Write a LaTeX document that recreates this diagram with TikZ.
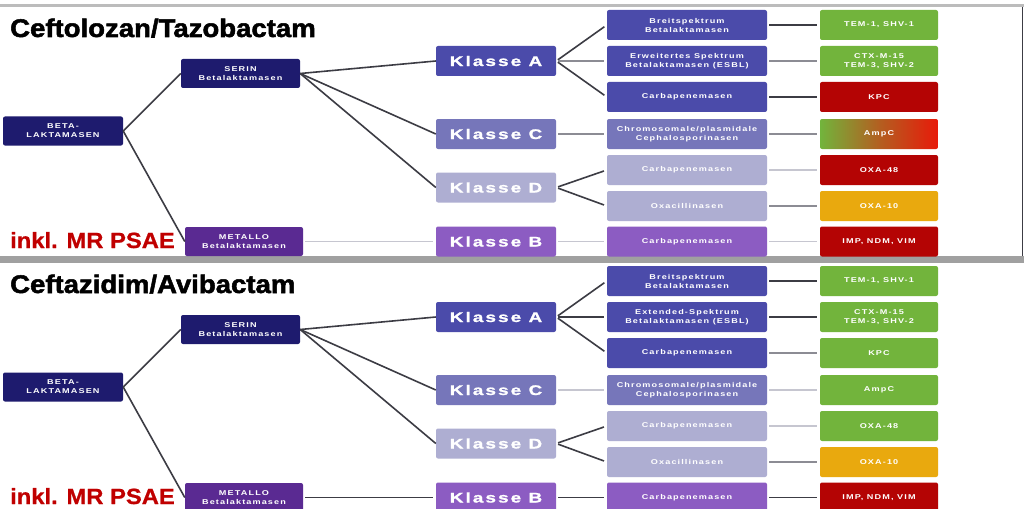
\documentclass[tikz,border=0pt]{standalone}
\usepackage{fontspec}
\setmainfont{Liberation Sans}
\newfontfamily\titlefont[FakeStretch=1.08,FakeBold=2]{Liberation Sans}
\newfontfamily\hintfont[FakeStretch=1.08,FakeBold=0.8]{Liberation Sans}
\newfontfamily\klfont[FakeStretch=1.35,LetterSpace=15,FakeBold=1.2]{Liberation Sans}
\newfontfamily\boxfont[FakeStretch=1.3,LetterSpace=16]{Liberation Sans}

\definecolor{navy}{HTML}{1E1B6E}
\definecolor{metallo}{HTML}{5A2A92}
\definecolor{klA}{HTML}{4B4BAA}
\definecolor{klC}{HTML}{7676BA}
\definecolor{klD}{HTML}{AEAED2}
\definecolor{klB}{HTML}{8C5CC2}
\definecolor{resgreen}{HTML}{72B43C}
\definecolor{resred}{HTML}{B40404}
\definecolor{resorange}{HTML}{E9A90E}
\definecolor{ampred}{HTML}{E81A0A}
\definecolor{linedark}{HTML}{3C3C44}
\definecolor{linegray}{HTML}{8C8C94}
\definecolor{linelight}{HTML}{C6C6D0}
\definecolor{hintred}{HTML}{C00000}
\definecolor{rulegray}{HTML}{A0A0A0}

\tikzset{
  box/.style={rectangle, rounded corners=2pt, text=white, align=center,
    inner sep=0pt},
  navybox/.style={box, fill=navy, minimum width=119pt, minimum height=29pt,
    font=\boxfont\bfseries\fontsize{7}{9}\selectfont},
  klasse/.style={box, minimum width=120pt, minimum height=30pt,
    font=\klfont\bfseries\fontsize{14}{16}\selectfont},
  child/.style={box, minimum width=160pt, minimum height=30pt,
    font=\boxfont\bfseries\fontsize{7}{9}\selectfont},
  result/.style={box, minimum width=118pt, minimum height=30pt,
    font=\boxfont\bfseries\fontsize{7}{9}\selectfont},
  title/.style={anchor=base west, inner sep=0pt, text=black,
    font=\titlefont\bfseries\fontsize{25.5}{28}\selectfont},
  hint/.style={anchor=base west, inner sep=0pt, text=hintred,
    font=\hintfont\bfseries\fontsize{22}{24}\selectfont},
  conn/.style={line width=1.6pt, draw=#1},
  conn/.default=linedark,
  gap/.style={shorten <=2pt, shorten >=3pt},
}

\begin{document}
\begin{tikzpicture}[x=1pt, y=-1pt]
\useasboundingbox (0,0) rectangle (1024,508);
\clip (0,0) rectangle (1024,508);
\fill[white] (0,0) rectangle (1024,508);

% frame rules
\fill[rulegray!70] (0,4.5) rectangle (1024,7);
\fill[rulegray] (0,256) rectangle (1024,263);
\fill[linedark] (1021.5,7) rectangle (1023,256);

% ---------- upper scheme ----------
\node[title] (t1) at (10,37) {Ceftolozan/Tazobactam};
\node[hint] (h1) at (10,248) {inkl. MR PSAE};

\node[navybox, minimum width=120pt] (beta) at (63,131) {BETA-\\LAKTAMASEN};
\node[navybox] (serin) at (240.5,73.5) {SERIN\\Betalaktamasen};
\node[navybox, fill=metallo, minimum width=118pt] (metallo) at (244,241.5) {METALLO\\Betalaktamasen};

\node[klasse, fill=klA] (ka) at (496,61) {Klasse A};
\node[klasse, fill=klC] (kc) at (496,134) {Klasse C};
\node[klasse, fill=klD] (kd) at (496,187.5) {Klasse D};
\node[klasse, fill=klB] (kb) at (496,241.5) {Klasse B};

\node[child, fill=klA] (a1) at (687,25) {Breitspektrum\\Betalaktamasen};
\node[child, fill=klA] (a2) at (687,61) {Erweitertes Spektrum\\Betalaktamasen (ESBL)};
\node[child, fill=klA] (a3) at (687,97) {Carbapenemasen};
\node[child, fill=klC] (c1) at (687,134) {Chromosomale/plasmidale\\Cephalosporinasen};
\node[child, fill=klD] (d1) at (687,170) {Carbapenemasen};
\node[child, fill=klD] (d2) at (687,206) {Oxacillinasen};
\node[child, fill=klB] (b1) at (687,241.5) {Carbapenemasen};

\node[result, fill=resgreen] (r1) at (879,25) {TEM-1, SHV-1};
\node[result, fill=resgreen] (r2) at (879,61) {CTX-M-15\\TEM-3, SHV-2};
\node[result, fill=resred] (r3) at (879,97) {KPC};
\node[result, left color=resgreen, right color=ampred, middle color=resgreen!45!ampred] (r4) at (879,134) {AmpC};
\node[result, fill=resred] (r5) at (879,170) {OXA-48};
\node[result, fill=resorange] (r6) at (879,206) {OXA-10};
\node[result, fill=resred] (r7) at (879,241.5) {IMP, NDM, VIM};

\draw[conn] (beta.east) -- (serin.west);
\draw[conn] (beta.east) -- (metallo.west);
\draw[conn] (serin.east) -- (ka.west);
\draw[conn] (serin.east) -- (kc.west);
\draw[conn] (serin.east) -- (kd.west);
\draw[conn=linelight, gap] (metallo.east) -- (kb.west);
\draw[conn, gap] (ka.east) -- (a1.west);
\draw[conn=linegray, gap] (ka.east) -- (a2.west);
\draw[conn, gap] (ka.east) -- (a3.west);
\draw[conn=linegray, gap] (kc.east) -- (c1.west);
\draw[conn, gap] (kd.east) -- (d1.west);
\draw[conn, gap] (kd.east) -- (d2.west);
\draw[conn=linelight, gap] (kb.east) -- (b1.west);
\draw[conn, gap] (a1.east) -- (r1.west);
\draw[conn=linegray, gap] (a2.east) -- (r2.west);
\draw[conn, gap] (a3.east) -- (r3.west);
\draw[conn=linegray, gap] (c1.east) -- (r4.west);
\draw[conn=linelight, gap] (d1.east) -- (r5.west);
\draw[conn=linegray, gap] (d2.east) -- (r6.west);
\draw[conn=linelight, gap] (b1.east) -- (r7.west);

% ---------- lower scheme ----------
\begin{scope}[yshift=-256pt]
\node[title] (t2) at (10,37) {Ceftazidim/Avibactam};
\node[hint] (h2) at (10,248) {inkl. MR PSAE};

\node[navybox, minimum width=120pt] (bbeta) at (63,131) {BETA-\\LAKTAMASEN};
\node[navybox] (bserin) at (240.5,73.5) {SERIN\\Betalaktamasen};
\node[navybox, fill=metallo, minimum width=118pt] (bmetallo) at (244,241.5) {METALLO\\Betalaktamasen};

\node[klasse, fill=klA] (bka) at (496,61) {Klasse A};
\node[klasse, fill=klC] (bkc) at (496,134) {Klasse C};
\node[klasse, fill=klD] (bkd) at (496,187.5) {Klasse D};
\node[klasse, fill=klB] (bkb) at (496,241.5) {Klasse B};

\node[child, fill=klA] (ba1) at (687,25) {Breitspektrum\\Betalaktamasen};
\node[child, fill=klA] (ba2) at (687,61) {Extended-Spektrum\\Betalaktamasen (ESBL)};
\node[child, fill=klA] (ba3) at (687,97) {Carbapenemasen};
\node[child, fill=klC] (bc1) at (687,134) {Chromosomale/plasmidale\\Cephalosporinasen};
\node[child, fill=klD] (bd1) at (687,170) {Carbapenemasen};
\node[child, fill=klD] (bd2) at (687,206) {Oxacillinasen};
\node[child, fill=klB] (bb1) at (687,241.5) {Carbapenemasen};

\node[result, fill=resgreen] (br1) at (879,25) {TEM-1, SHV-1};
\node[result, fill=resgreen] (br2) at (879,61) {CTX-M-15\\TEM-3, SHV-2};
\node[result, fill=resgreen] (br3) at (879,97) {KPC};
\node[result, fill=resgreen] (br4) at (879,134) {AmpC};
\node[result, fill=resgreen] (br5) at (879,170) {OXA-48};
\node[result, fill=resorange] (br6) at (879,206) {OXA-10};
\node[result, fill=resred] (br7) at (879,241.5) {IMP, NDM, VIM};

\draw[conn] (bbeta.east) -- (bserin.west);
\draw[conn] (bbeta.east) -- (bmetallo.west);
\draw[conn] (bserin.east) -- (bka.west);
\draw[conn] (bserin.east) -- (bkc.west);
\draw[conn] (bserin.east) -- (bkd.west);
\draw[conn, gap] (bmetallo.east) -- (bkb.west);
\draw[conn, gap] (bka.east) -- (ba1.west);
\draw[conn, gap] (bka.east) -- (ba2.west);
\draw[conn, gap] (bka.east) -- (ba3.west);
\draw[conn=linelight, gap] (bkc.east) -- (bc1.west);
\draw[conn, gap] (bkd.east) -- (bd1.west);
\draw[conn, gap] (bkd.east) -- (bd2.west);
\draw[conn, gap] (bkb.east) -- (bb1.west);
\draw[conn, gap] (ba1.east) -- (br1.west);
\draw[conn, gap] (ba2.east) -- (br2.west);
\draw[conn=linegray, gap] (ba3.east) -- (br3.west);
\draw[conn=linelight, gap] (bc1.east) -- (br4.west);
\draw[conn=linelight, gap] (bd1.east) -- (br5.west);
\draw[conn=linegray, gap] (bd2.east) -- (br6.west);
\draw[conn, gap] (bb1.east) -- (br7.west);
\end{scope}
\end{tikzpicture}
\end{document}
